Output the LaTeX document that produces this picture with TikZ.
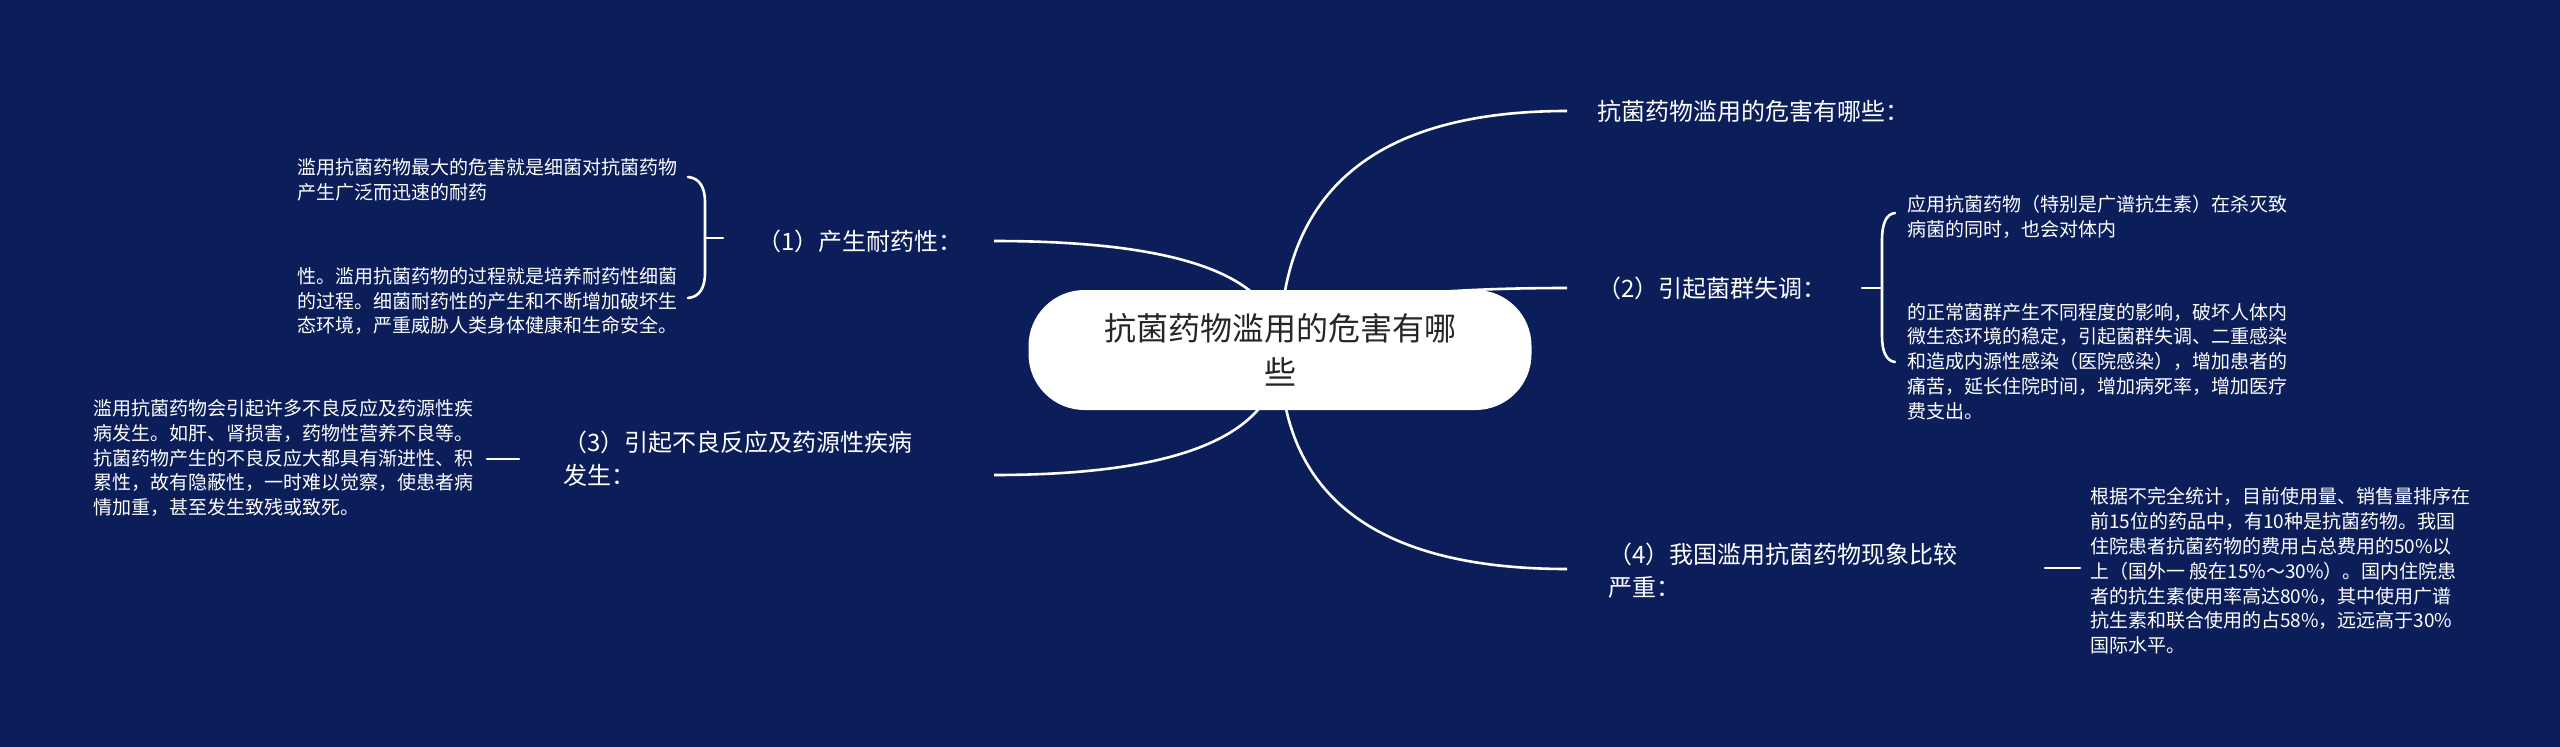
\documentclass[tikz,border=0pt]{standalone}
\usepackage{fontspec}
\setmainfont{Noto Sans CJK SC}
\usetikzlibrary{calc}
\definecolor{bg}{RGB}{12,30,90}
\definecolor{ctext}{RGB}{38,38,38}
\begin{document}
\begin{tikzpicture}[x=1pt,y=-1pt,
  conn/.style={draw=white, line width=2.6pt},
  brace/.style={draw=white, line width=2.6pt, line cap=round},
  lbl/.style={text=white, font=\fontsize{24}{33}\selectfont, align=left, inner sep=0pt, anchor=west},
  leaf/.style={text=white, font=\fontsize{19}{24.8}\selectfont, align=left, inner sep=0pt, anchor=west},
  pill/.style={fill=white, text=ctext, rounded corners=56pt, minimum width=503pt, minimum height=120pt,
    align=center, font=\fontsize{32}{44}\selectfont, inner sep=0pt}]
\fill[bg] (0,0) rectangle (2560,747);
\useasboundingbox (0,0) rectangle (2560,747);

% connector ends
\coordinate (o) at (1280,350);
\coordinate (e0) at (1567,111);
\coordinate (e1) at (994,241);
\coordinate (e2) at (1567,288);
\coordinate (e3) at (994,475);
\coordinate (e4) at (1567,569);
\foreach \e in {e0,e1,e2,e3,e4}{
  \coordinate (k\e) at (o |- \e);
  \draw[conn] (o) .. controls ($(o)!2/3!(k\e)$) and ($(\e)!2/3!(k\e)$) .. (\e);
}

% central node
\node[pill] (c) at (o) {抗菌药物滥用的危害有哪\\些};

% first-level labels
\node[lbl] (t0) at (1597,111) {抗菌药物滥用的危害有哪些：};
\node[lbl] (t1) at (757,241) {（1）产生耐药性：};
\node[lbl] (t2) at (1597,288) {（2）引起菌群失调：};
\node[lbl] (t3) at (563,458.5) {（3）引起不良反应及药源性疾病\\发生：};
\node[lbl] (t4) at (1608,571) {（4）我国滥用抗菌药物现象比较\\严重：};

% leaves of (1)
\node[leaf] (l1a) at (297,180) {滥用抗菌药物最大的危害就是细菌对抗菌药物\\产生广泛而迅速的耐药};
\node[leaf] (l1b) at (297,301) {性。滥用抗菌药物的过程就是培养耐药性细菌\\的过程。细菌耐药性的产生和不断增加破坏生\\态环境，严重威胁人类身体健康和生命安全。};
\coordinate (b1t) at (688,177);
\coordinate (b1b) at (688,298);
\coordinate (b1m) at (705,238);
\coordinate (b1s) at (723,238);
\draw[brace] (b1t) .. controls (700,178) and (705,188) .. (705,202) -- (705,273)
  .. controls (705,287) and (700,297) .. (b1b);
\draw[brace] (b1m) -- (b1s);

% leaves of (2)
\node[leaf] (l2a) at (1907,217) {应用抗菌药物（特别是广谱抗生素）在杀灭致\\病菌的同时，也会对体内};
\node[leaf] (l2b) at (1907,361.5) {的正常菌群产生不同程度的影响，破坏人体内\\微生态环境的稳定，引起菌群失调、二重感染\\和造成内源性感染（医院感染），增加患者的\\痛苦，延长住院时间，增加病死率，增加医疗\\费支出。};
\coordinate (b2t) at (1895,213);
\coordinate (b2b) at (1895,362);
\coordinate (b2m) at (1882,288);
\coordinate (b2s) at (1862,288);
\draw[brace] (b2t) .. controls (1886,214) and (1882,224) .. (1882,240) -- (1882,336)
  .. controls (1882,351) and (1886,361) .. (b2b);
\draw[brace] (b2m) -- (b2s);

% leaf of (3)
\node[leaf] (l3) at (93,458) {滥用抗菌药物会引起许多不良反应及药源性疾\\病发生。如肝、肾损害，药物性营养不良等。\\抗菌药物产生的不良反应大都具有渐进性、积\\累性，故有隐蔽性，一时难以觉察，使患者病\\情加重，甚至发生致残或致死。};
\coordinate (s3a) at (487,459);
\coordinate (s3b) at (519,459);
\draw[brace] (s3a) -- (s3b);

% leaf of (4)
\node[leaf] (l4) at (2090,571) {根据不完全统计，目前使用量、销售量排序在\\前15位的药品中，有10种是抗菌药物。我国\\住院患者抗菌药物的费用占总费用的50\%以\\上（国外一 般在15\%～30\%）。国内住院患\\者的抗生素使用率高达80\%，其中使用广谱\\抗生素和联合使用的占58\%，远远高于30\%\\国际水平。};
\coordinate (s4a) at (2045,568);
\coordinate (s4b) at (2080,568);
\draw[brace] (s4a) -- (s4b);
\end{tikzpicture}
\end{document}
